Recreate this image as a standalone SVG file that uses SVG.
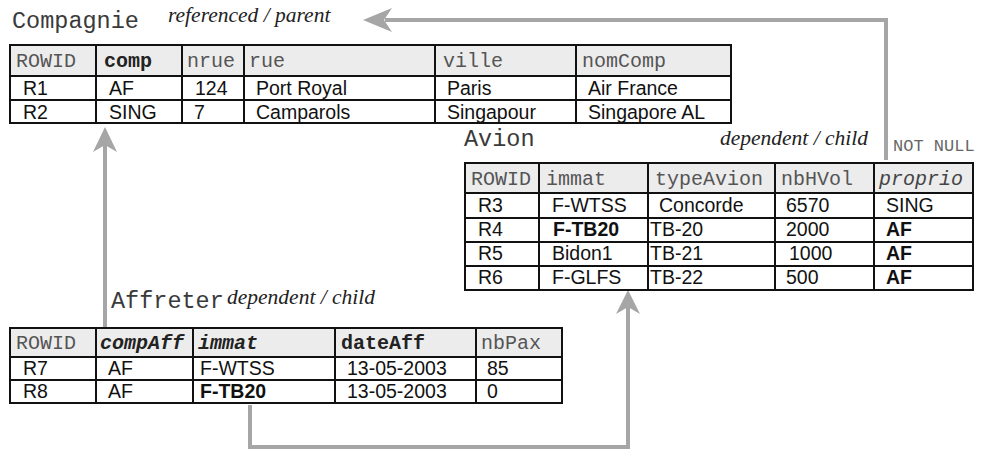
<svg xmlns="http://www.w3.org/2000/svg" width="989" height="450" viewBox="0 0 989 450">
<style>
.title{font-family:"Liberation Mono",monospace;font-size:23.5px;fill:#3a3a3a}
.role{font-family:"Liberation Serif",serif;font-style:italic;font-size:21.5px;fill:#222}
.nn{font-family:"Liberation Mono",monospace;font-size:17px;fill:#666}
.hd{font-family:"Liberation Mono",monospace;font-size:20px;fill:#555}
.hb{font-family:"Liberation Mono",monospace;font-size:20px;fill:#222;font-weight:bold}
.hi{font-family:"Liberation Mono",monospace;font-size:20px;fill:#444;font-style:italic}
.hbi{font-family:"Liberation Mono",monospace;font-size:20px;fill:#222;font-weight:bold;font-style:italic}
.d{font-family:"Liberation Sans",sans-serif;font-size:19.5px;fill:#111}
.db{font-family:"Liberation Sans",sans-serif;font-size:19.5px;fill:#111;font-weight:bold}
.hdr{fill:#ececec}
.grid{fill:none;stroke:#111;stroke-width:2}
.conn{fill:none;stroke:#a6a6a6;stroke-width:4}
.head{fill:#a6a6a6}
</style>
<rect width="989" height="450" fill="#fff"/>

<g id="connectors">
  <polyline class="conn" points="886,160 886,20 385,20"/>
  <polygon class="head" points="363,20 392,8 384,20 392,32"/>
  <line class="conn" x1="105" y1="327" x2="105" y2="140"/>
  <polygon class="head" points="105,127 93,152 105,145 117,152"/>
  <polyline class="conn" points="250,405 250,447 628,447 628,302"/>
  <polygon class="head" points="628,290 616,314 628,307 640,314"/>
</g>

<g id="compagnie">
  <text class="title" x="12" y="28">Compagnie</text>
  <text class="role" x="168" y="22">referenced / parent</text>
  <rect class="hdr" x="10" y="45" width="721" height="31"/>
  <rect class="grid" x="10" y="45" width="721" height="78"/>
  <line class="grid" x1="10" y1="76" x2="731" y2="76"/>
  <line class="grid" x1="10" y1="100" x2="731" y2="100"/>
  <line class="grid" x1="96" y1="45" x2="96" y2="123"/>
  <line class="grid" x1="182" y1="45" x2="182" y2="123"/>
  <line class="grid" x1="244" y1="45" x2="244" y2="123"/>
  <line class="grid" x1="435" y1="45" x2="435" y2="123"/>
  <line class="grid" x1="576" y1="45" x2="576" y2="123"/>
  <text class="hd" x="16" y="67">ROWID</text>
  <text class="hb" x="104" y="67">comp</text>
  <text class="hd" x="187" y="67">nrue</text>
  <text class="hd" x="249" y="67">rue</text>
  <text class="hd" x="443" y="67">ville</text>
  <text class="hd" x="582" y="67">nomComp</text>
  <text class="d" x="23" y="95">R1</text>
  <text class="d" x="109" y="95">AF</text>
  <text class="d" x="195" y="95">124</text>
  <text class="d" x="256" y="95">Port Royal</text>
  <text class="d" x="447" y="95">Paris</text>
  <text class="d" x="588" y="95">Air France</text>
  <text class="d" x="23" y="119">R2</text>
  <text class="d" x="109" y="119">SING</text>
  <text class="d" x="194" y="119">7</text>
  <text class="d" x="256" y="119">Camparols</text>
  <text class="d" x="447" y="119">Singapour</text>
  <text class="d" x="588" y="119">Singapore AL</text>
</g>

<g id="avion">
  <text class="title" x="464" y="146">Avion</text>
  <text class="role" x="868" y="145" text-anchor="end">dependent / child</text>
  <text class="nn" x="893" y="151">NOT NULL</text>
  <rect class="hdr" x="465" y="163" width="508" height="30"/>
  <rect class="grid" x="465" y="163" width="508" height="127"/>
  <line class="grid" x1="465" y1="193" x2="973" y2="193"/>
  <line class="grid" x1="465" y1="218" x2="973" y2="218"/>
  <line class="grid" x1="465" y1="242" x2="973" y2="242"/>
  <line class="grid" x1="465" y1="266" x2="973" y2="266"/>
  <line class="grid" x1="539" y1="163" x2="539" y2="290"/>
  <line class="grid" x1="648" y1="163" x2="648" y2="290"/>
  <line class="grid" x1="775" y1="163" x2="775" y2="290"/>
  <line class="grid" x1="874" y1="163" x2="874" y2="290"/>
  <text class="hd" x="471" y="185">ROWID</text>
  <text class="hd" x="546" y="185">immat</text>
  <text class="hd" x="655" y="185">typeAvion</text>
  <text class="hd" x="781" y="185">nbHVol</text>
  <text class="hi" x="879" y="185">proprio</text>
  <text class="d" x="478" y="212">R3</text>
  <text class="d" x="552" y="212">F-WTSS</text>
  <text class="d" x="659" y="212">Concorde</text>
  <text class="d" x="786" y="212">6570</text>
  <text class="d" x="886" y="212">SING</text>
  <text class="d" x="478" y="236">R4</text>
  <text class="db" x="553" y="236">F-TB20</text>
  <text class="d" x="650" y="236">TB-20</text>
  <text class="d" x="786" y="236">2000</text>
  <text class="db" x="886" y="236">AF</text>
  <text class="d" x="478" y="260">R5</text>
  <text class="d" x="552" y="260">Bidon1</text>
  <text class="d" x="650" y="260">TB-21</text>
  <text class="d" x="789" y="260">1000</text>
  <text class="db" x="886" y="260">AF</text>
  <text class="d" x="478" y="284">R6</text>
  <text class="d" x="552" y="284">F-GLFS</text>
  <text class="d" x="650" y="284">TB-22</text>
  <text class="d" x="786" y="284">500</text>
  <text class="db" x="886" y="284">AF</text>
</g>

<g id="affreter">
  <text class="title" x="111" y="308">Affreter</text>
  <text class="role" x="227" y="304">dependent / child</text>
  <rect class="hdr" x="10" y="328" width="552" height="29"/>
  <rect class="grid" x="10" y="328" width="552" height="75"/>
  <line class="grid" x1="10" y1="357" x2="562" y2="357"/>
  <line class="grid" x1="10" y1="380" x2="562" y2="380"/>
  <line class="grid" x1="96" y1="328" x2="96" y2="403"/>
  <line class="grid" x1="193" y1="328" x2="193" y2="403"/>
  <line class="grid" x1="335" y1="328" x2="335" y2="403"/>
  <line class="grid" x1="476" y1="328" x2="476" y2="403"/>
  <text class="hd" x="16" y="349">ROWID</text>
  <text class="hbi" x="100" y="349">compAff</text>
  <text class="hbi" x="198" y="349">immat</text>
  <text class="hb" x="341" y="349">dateAff</text>
  <text class="hd" x="481" y="349">nbPax</text>
  <text class="d" x="23" y="375">R7</text>
  <text class="d" x="108" y="375">AF</text>
  <text class="d" x="200" y="375">F-WTSS</text>
  <text class="d" x="347" y="375">13-05-2003</text>
  <text class="d" x="487" y="375">85</text>
  <text class="d" x="23" y="398">R8</text>
  <text class="d" x="108" y="398">AF</text>
  <text class="db" x="200" y="398">F-TB20</text>
  <text class="d" x="347" y="398">13-05-2003</text>
  <text class="d" x="487" y="398">0</text>
</g>
</svg>
